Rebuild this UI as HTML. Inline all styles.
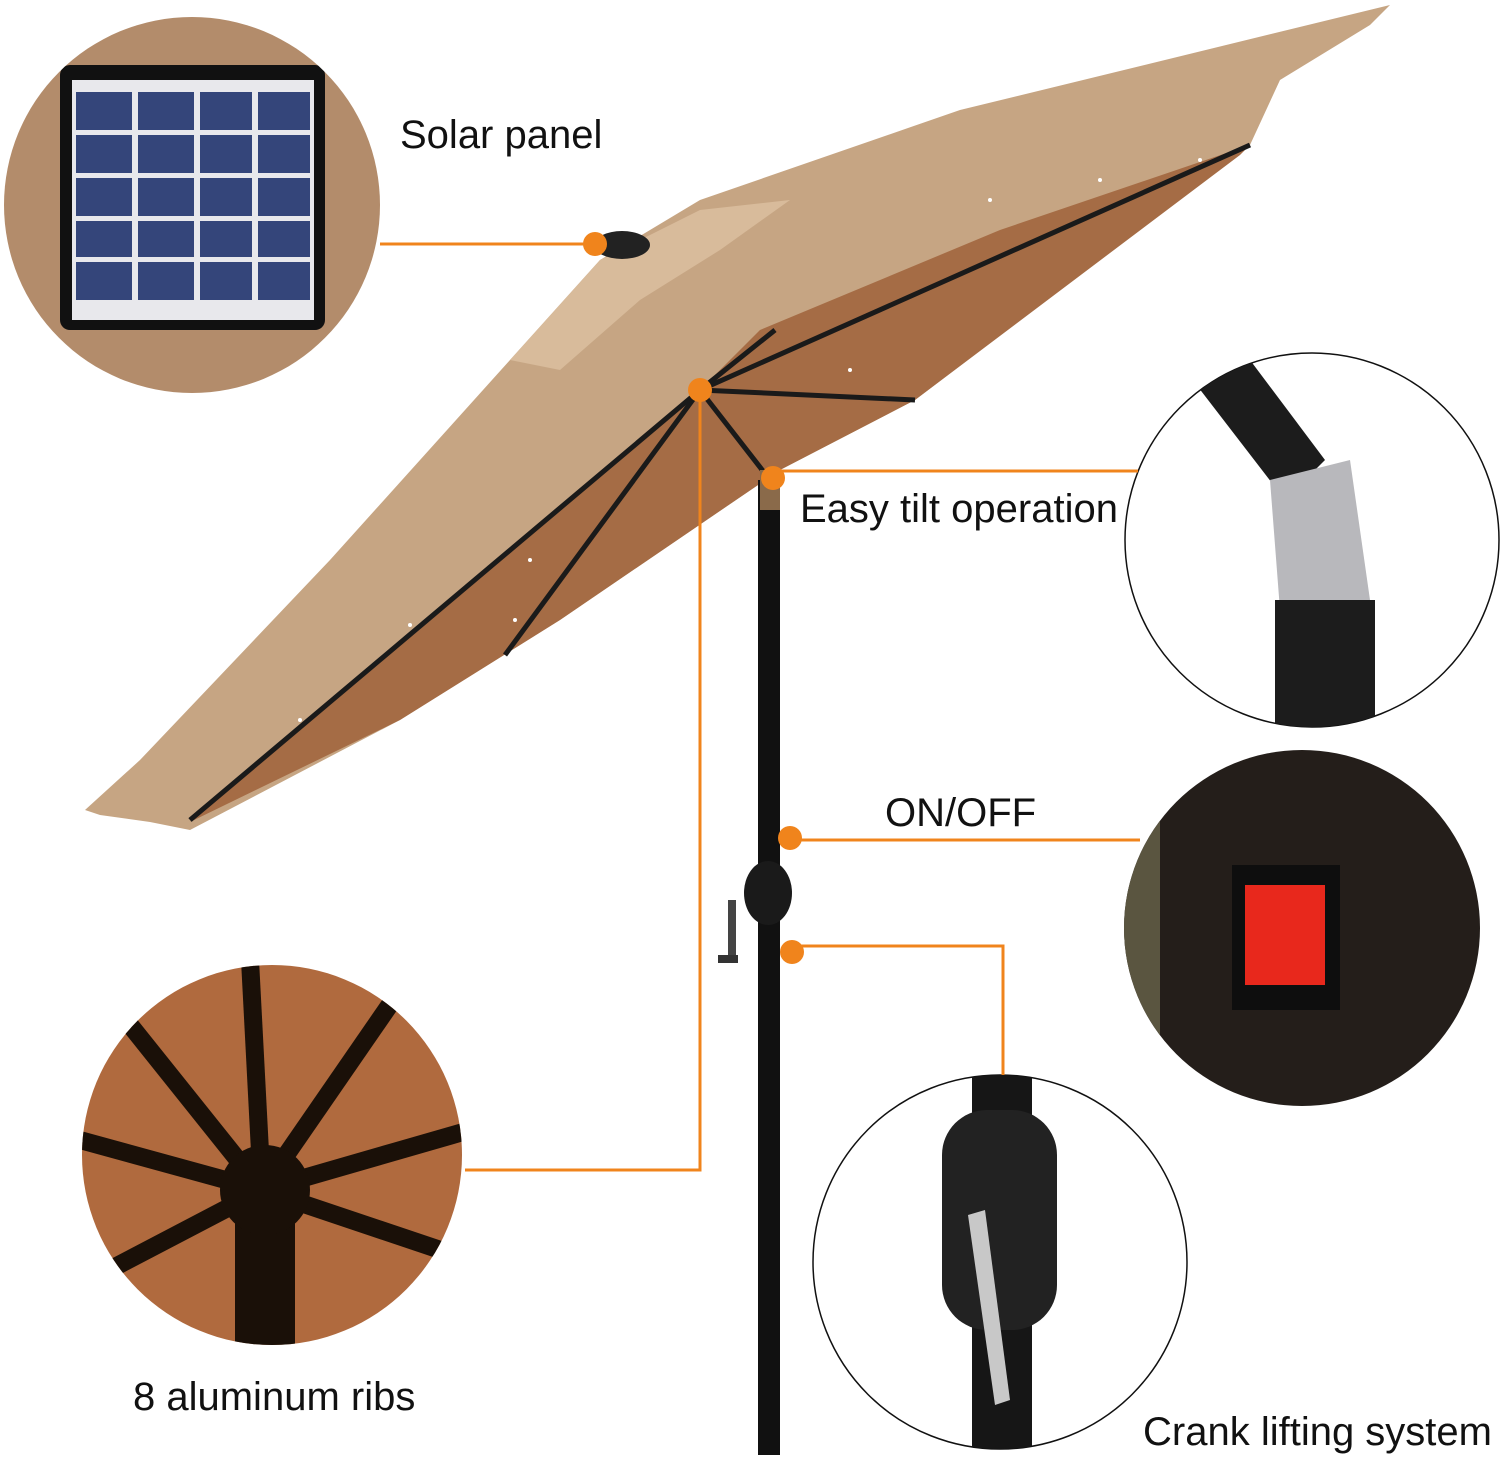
<!DOCTYPE html>
<html><head><meta charset="utf-8"><style>
html,body{margin:0;padding:0;background:#fff;}
svg{display:block;}
text{font-family:"Liberation Sans",sans-serif;fill:#111;}
</style></head><body>
<svg width="1500" height="1458" viewBox="0 0 1500 1458" xmlns="http://www.w3.org/2000/svg">
<defs>
<clipPath id="c1"><circle cx="192" cy="205" r="188"/></clipPath>
<clipPath id="c2"><circle cx="1312" cy="540" r="187"/></clipPath>
<clipPath id="c3"><circle cx="1302" cy="928" r="178"/></clipPath>
<clipPath id="c4"><circle cx="1000" cy="1262" r="187"/></clipPath>
<clipPath id="c5"><circle cx="272" cy="1155" r="190"/></clipPath>
</defs>

<!-- canopy top surface -->
<polygon points="85,810 140,760 330,560 510,360 600,260 700,200 960,110 1390,5 1370,25 1280,80 1250,145 915,400 780,470 560,620 400,720 190,830 150,822 100,815" fill="#c6a583"/>
<!-- underside -->
<polygon points="190,822 700,390 760,330 1000,230 1250,145 1240,155 915,400 780,470 560,620 400,720" fill="#a56c45"/>
<polygon points="510,360 600,260 700,210 790,200 720,250 640,300 560,370" fill="#d8bb9b"/>
<!-- ribs -->
<g stroke="#1a1a1a" stroke-width="5" fill="none">
<line x1="700" y1="390" x2="190" y2="820"/>
<line x1="700" y1="390" x2="505" y2="655"/>
<line x1="700" y1="390" x2="1250" y2="145"/>
<line x1="700" y1="390" x2="915" y2="400"/>
<line x1="700" y1="390" x2="775" y2="330"/>
<line x1="700" y1="390" x2="770" y2="480"/>
</g>
<g fill="#fff">
<circle cx="300" cy="720" r="2"/><circle cx="410" cy="625" r="2"/><circle cx="530" cy="560" r="2"/><circle cx="850" cy="370" r="2"/><circle cx="990" cy="200" r="2"/><circle cx="1100" cy="180" r="2"/><circle cx="1200" cy="160" r="2"/><circle cx="515" cy="620" r="2"/>
</g>
<ellipse cx="622" cy="245" rx="28" ry="14" fill="#222"/>

<!-- pole -->
<rect x="758" y="480" width="22" height="975" fill="#111"/>
<rect x="760" y="470" width="20" height="40" fill="#8a6a4a"/>
<ellipse cx="768" cy="893" rx="24" ry="32" fill="#1a1a1a"/>
<rect x="728" y="900" width="8" height="60" fill="#444"/>
<rect x="718" y="955" width="20" height="8" fill="#333"/>

<!-- solar circle -->
<g clip-path="url(#c1)">
<rect x="0" y="15" width="385" height="380" fill="#b38c6b"/>
<rect x="60" y="65" width="265" height="265" rx="10" fill="#111"/>
<rect x="72" y="80" width="242" height="240" fill="#e8e8ec"/>
<g fill="#34457a">
<rect x="76" y="92" width="56" height="38"/><rect x="138" y="92" width="56" height="38"/><rect x="200" y="92" width="52" height="38"/><rect x="258" y="92" width="52" height="38"/>
<rect x="76" y="135" width="56" height="38"/><rect x="138" y="135" width="56" height="38"/><rect x="200" y="135" width="52" height="38"/><rect x="258" y="135" width="52" height="38"/>
<rect x="76" y="178" width="56" height="38"/><rect x="138" y="178" width="56" height="38"/><rect x="200" y="178" width="52" height="38"/><rect x="258" y="178" width="52" height="38"/>
<rect x="76" y="221" width="56" height="36"/><rect x="138" y="221" width="56" height="36"/><rect x="200" y="221" width="52" height="36"/><rect x="258" y="221" width="52" height="36"/>
<rect x="76" y="262" width="56" height="38"/><rect x="138" y="262" width="56" height="38"/><rect x="200" y="262" width="52" height="38"/><rect x="258" y="262" width="52" height="38"/>
</g>
</g>

<!-- tilt circle -->
<circle cx="1312" cy="540" r="187" fill="#fff" stroke="#111" stroke-width="1.5"/>
<g clip-path="url(#c2)">
<polygon points="1185,370 1235,340 1325,460 1285,500" fill="#1c1c1c"/>
<polygon points="1270,480 1350,460 1370,600 1280,610" fill="#b8b8bc"/>
<rect x="1275" y="600" width="100" height="140" fill="#1c1c1c"/>
</g>

<!-- on/off circle -->
<g clip-path="url(#c3)">
<rect x="1120" y="750" width="370" height="360" fill="#241e1a"/>
<rect x="1120" y="750" width="40" height="360" fill="#5a5540"/>
<rect x="1232" y="865" width="108" height="145" fill="#0e0e0e"/>
<rect x="1245" y="885" width="80" height="100" fill="#e8281c"/>
</g>

<!-- crank circle -->
<circle cx="1000" cy="1262" r="187" fill="#fff" stroke="#111" stroke-width="1.5"/>
<g clip-path="url(#c4)">
<rect x="972" y="1070" width="60" height="400" fill="#161616"/>
<rect x="942" y="1110" width="115" height="220" rx="45" fill="#222"/>
<polygon points="968,1215 985,1210 1010,1400 995,1405" fill="#c8c8c8"/>
</g>

<!-- ribs circle -->
<g clip-path="url(#c5)">
<rect x="80" y="960" width="390" height="390" fill="#b06a3e"/>
<g stroke="#1a1008" stroke-width="18">
<line x1="262" y1="1190" x2="110" y2="1000"/><line x1="262" y1="1190" x2="250" y2="960"/><line x1="262" y1="1190" x2="400" y2="990"/>
<line x1="262" y1="1190" x2="470" y2="1130"/><line x1="262" y1="1190" x2="470" y2="1260"/><line x1="262" y1="1190" x2="80" y2="1140"/>
<line x1="262" y1="1190" x2="90" y2="1280"/>
</g>
<rect x="235" y="1190" width="60" height="170" fill="#1a1008"/>
<circle cx="265" cy="1190" r="45" fill="#1a1008"/>
</g>

<!-- orange connectors -->
<g stroke="#f0841c" stroke-width="3" fill="none">
<polyline points="380,244 595,244"/>
<polyline points="773,471 1138,471"/>
<polyline points="700,390 700,1170 465,1170"/>
<polyline points="790,840 1140,840"/>
<polyline points="792,946 1003,946 1003,1075"/>
</g>
<g fill="#f0841c">
<circle cx="595" cy="244" r="12"/><circle cx="773" cy="478" r="12"/><circle cx="700" cy="390" r="12"/>
<circle cx="790" cy="838" r="12"/><circle cx="792" cy="952" r="12"/>
</g>

<!-- labels -->
<text x="400" y="148" font-size="40">Solar panel</text>
<text x="800" y="522" font-size="40">Easy tilt operation</text>
<text x="885" y="826" font-size="40">ON/OFF</text>
<text x="133" y="1410" font-size="40">8 aluminum ribs</text>
<text x="1143" y="1445" font-size="40">Crank lifting system</text>
</svg>
</body></html>
